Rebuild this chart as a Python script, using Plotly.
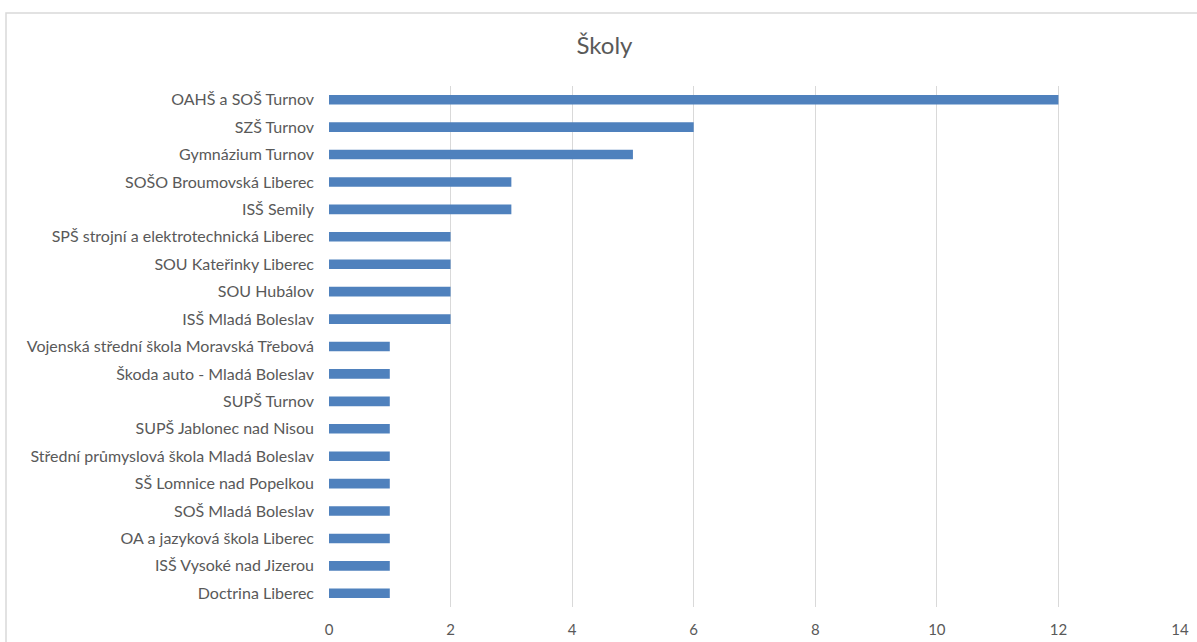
import plotly.graph_objects as go

categories = [
    "OAHŠ a SOŠ Turnov",
    "SZŠ Turnov",
    "Gymnázium Turnov",
    "SOŠO Broumovská Liberec",
    "ISŠ Semily",
    "SPŠ strojní a elektrotechnická Liberec",
    "SOU Kateřinky Liberec",
    "SOU Hubálov",
    "ISŠ Mladá Boleslav",
    "Vojenská střední škola Moravská Třebová",
    "Škoda auto - Mladá Boleslav",
    "SUPŠ Turnov",
    "SUPŠ Jablonec nad Nisou",
    "Střední průmyslová škola Mladá Boleslav",
    "SŠ Lomnice nad Popelkou",
    "SOŠ Mladá Boleslav",
    "OA a jazyková škola Liberec",
    "ISŠ Vysoké nad Jizerou",
    "Doctrina Liberec",
]
values = [12, 6, 5, 3, 3, 2, 2, 2, 2, 1, 1, 1, 1, 1, 1, 1, 1, 1, 1]
x_ticks = [0, 2, 4, 6, 8, 10, 12, 14]
title_text = "Školy"

W, H = 1197, 642
left, right, top, bottom = 329, 17, 86, 35
pw = W - left - right
ph = H - top - bottom

fig = go.Figure(
    go.Bar(
        x=values,
        y=categories,
        orientation="h",
        marker=dict(color="#4F81BD", line=dict(width=0)),
        hoverinfo="x+y",
    )
)

font_fam = "Lato, 'Open Sans', sans-serif"
fig.update_layout(
    width=W,
    height=H,
    margin=dict(l=left, r=right, t=top, b=bottom, autoexpand=False),
    paper_bgcolor="white",
    plot_bgcolor="white",
    bargap=0.65,
    showlegend=False,
    font=dict(family=font_fam, size=16, color="#595959"),
    title=dict(
        text=title_text,
        x=0.505,
        xanchor="center",
        y=1 - 46 / H,
        yanchor="middle",
        xref="container",
        yref="container",
        font=dict(family=font_fam, size=24, color="#595959"),
    ),
    xaxis=dict(
        range=[0, 14],
        tickvals=x_ticks,
        showgrid=True,
        gridcolor="#D9D9D9",
        gridwidth=1,
        zeroline=False,
        showline=False,
        ticks="",
        automargin=False,
        ticklabelstandoff=12,
        tickfont=dict(size=15, color="#595959"),
        fixedrange=True,
    ),
    yaxis=dict(
        autorange="reversed",
        showgrid=False,
        zeroline=False,
        showline=False,
        ticks="",
        automargin=False,
        ticklabelstandoff=14,
        tickfont=dict(size=16, color="#595959"),
        fixedrange=True,
    ),
    shapes=[
        dict(
            type="rect",
            xref="paper",
            yref="paper",
            x0=(6 - left) / pw,
            x1=(W + 20 - left) / pw,
            y0=-(60) / ph,
            y1=(H - bottom - 13) / ph,
            line=dict(color="#D9D9D9", width=1.5),
            fillcolor="rgba(0,0,0,0)",
            layer="below",
        )
    ],
)

fig.write_html(
    "out.html",
    config={"displayModeBar": False},
    post_script="document.body.style.margin='0';document.body.style.overflow='hidden';",
)
